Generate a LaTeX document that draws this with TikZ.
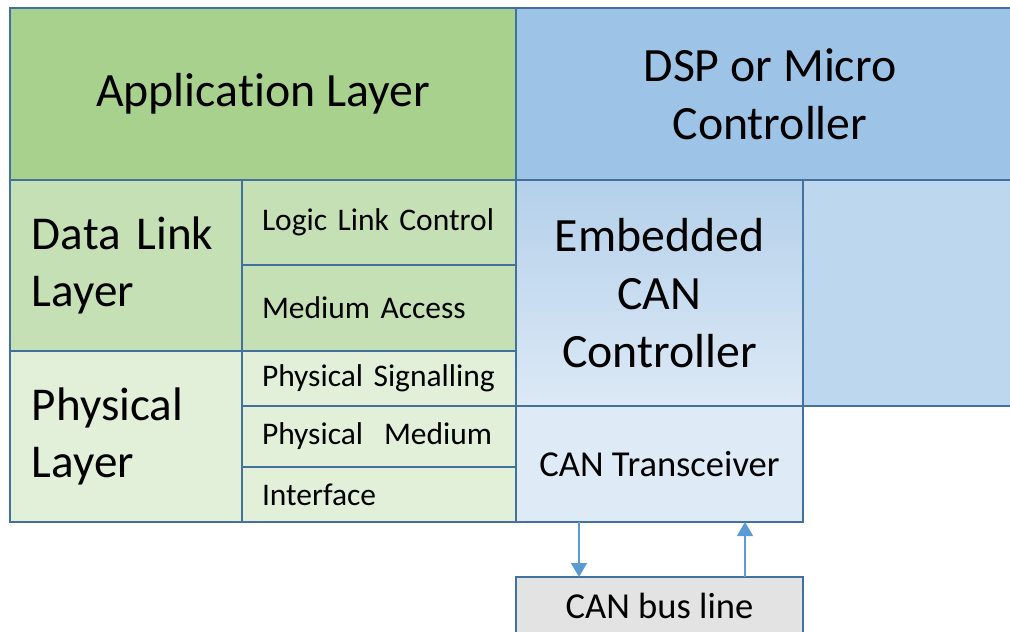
\documentclass[tikz,border=0pt]{standalone}
\usepackage{fontspec}
\setmainfont{Carlito}[Ligatures={NoCommon}]
\usepackage{xcolor}
\usetikzlibrary{positioning,arrows.meta}

\definecolor{edgeblue}{HTML}{41719C}
\definecolor{arrowblue}{HTML}{5B9BD5}
\definecolor{appgreen}{HTML}{A9D18E}
\definecolor{dlgreen}{HTML}{C5E0B4}
\definecolor{phygreen}{HTML}{E2F0D9}
\definecolor{dspblue}{HTML}{9DC3E6}
\definecolor{sideblue}{HTML}{BDD7EE}
\definecolor{ecctop}{HTML}{B4D0EA}
\definecolor{eccbot}{HTML}{DCE9F6}
\definecolor{xcvrblue}{HTML}{DEEBF7}
\definecolor{busgray}{HTML}{E3E3E3}

\begin{document}
\begin{tikzpicture}
[
box/.style={rectangle, draw=edgeblue, line width=1.4pt, outer sep=0pt, inner sep=0pt},
text-big/.style={font=\fontsize{34}{41}\selectfont, align=center},
text-mid/.style={font=\fontsize{26}{31}\selectfont, align=center},
text-sub/.style={font=\fontsize{22.4}{27}\selectfont, align=left, text width=58.5mm, inner xsep=5mm, minimum width=68.5mm},
text-lay/.style={font=\fontsize{33.5}{41}\selectfont, align=left, text width=47mm, inner xsep=5.5mm, minimum width=58mm},
link/.style={draw=arrowblue, line width=1pt, -{Triangle[width=4mm, length=3.5mm]}}
]

\useasboundingbox (0,0) rectangle (252.5mm,-157.75mm);

\node (app-layer) [box, text-big, fill=appgreen, anchor=north west, minimum width=126.5mm, minimum height=43mm] at (2.5mm,-2mm) {Application Layer};
\node (dl-layer)  [box, text-lay, fill=dlgreen,  below right = 0mm of app-layer.south west, minimum height=42.75mm] {Data Link\\Layer};
\node (llc)       [box, text-sub, fill=dlgreen,  below right = 0mm of dl-layer.north east, minimum height=21.25mm] {Logic Link Control};
\node (mac)       [box, text-sub, fill=dlgreen,  below       = 0mm of llc,                 minimum height=21.5mm]  {Medium Access};
\node (phy-layer) [box, text-lay, fill=phygreen, below       = 0mm of dl-layer,            minimum height=42.75mm] {Physical\\Layer};
\node (phy-sig)   [box, text-sub, fill=phygreen, below       = 0mm of mac,                 minimum height=13.75mm] {Physical Signalling};
\node (phy-med)   [box, text-sub, fill=phygreen, below       = 0mm of phy-sig,             minimum height=15.25mm] {Physical~~Medium};
\node (intf)      [box, text-sub, fill=phygreen, below       = 0mm of phy-med,             minimum height=13.75mm] {Interface};

\node (dsp)       [box, text-big, fill=dspblue,  right       = 0mm of app-layer, minimum width=127mm, minimum height=43mm] {DSP or Micro\\Controller};
\node (can-ctrl)  [box, text-big, top color=ecctop, middle color=ecctop!80!eccbot, bottom color=eccbot, draw=edgeblue,
                   below right = 0mm of dsp.south west, minimum width=71.75mm, minimum height=56.5mm] {Embedded\\CAN\\Controller};
\node (dsp-rest)  [box, fill=sideblue, right = 0mm of can-ctrl, minimum width=55.25mm, minimum height=56.5mm] {};
\node (can-xcvr)  [box, text-mid, fill=xcvrblue, below = 0mm of can-ctrl, minimum width=71.75mm, minimum height=29mm] {CAN Transceiver};
\node (can-bus)   [box, text-mid, fill=busgray,  below = 13.75mm of can-xcvr, minimum width=71.75mm, minimum height=14.5mm] {CAN bus line};

\coordinate (tx-pt) at ([xshift=15.75mm]can-xcvr.south west);
\coordinate (rx-pt) at ([xshift=57.25mm]can-bus.north west);
\draw [link] (tx-pt) -- (tx-pt |- can-bus.north);
\draw [link] (rx-pt) -- (rx-pt |- can-xcvr.south);

\end{tikzpicture}
\end{document}
